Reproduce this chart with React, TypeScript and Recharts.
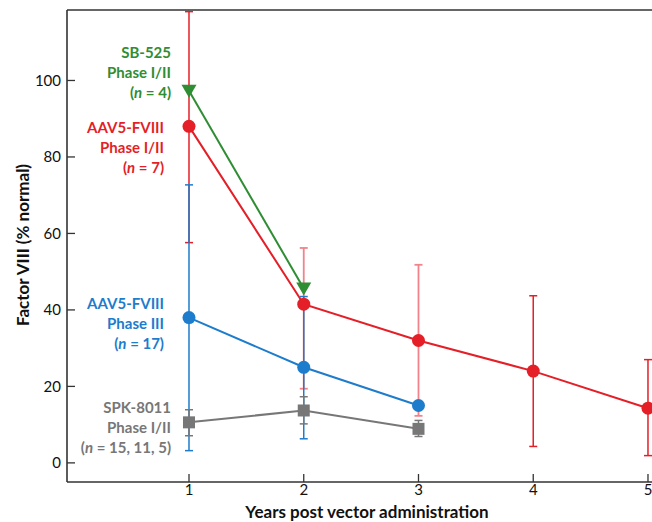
import React from "react";
import { LineChart, Line, XAxis, YAxis, ErrorBar, Customized } from "recharts";

// ---- data ----
const xTicks = [1, 2, 3, 4, 5];
const yTicks = [0, 20, 40, 60, 80, 100];

// AAV5-FVIII Phase I/II (red)
const redYears = [1, 2, 3, 4, 5];
const redMean = [88, 41.5, 32, 24, 14.3];
const redLow = [57.6, 19.4, 12.3, 4.3, 1.9];
const redHigh = [118, 56.2, 51.8, 43.7, 27];

// SB-525 Phase I/II (green)
const greenYears = [1, 2];
const greenMean = [97.3, 45.6];

// AAV5-FVIII Phase III (blue)
const blueYears = [1, 2, 3];
const blueMean = [38, 25, 15];
const blueErrYears = [1, 2];
const blueLow = [3.2, 6.3];
const blueHigh = [72.7, 43.5];

// SPK-8011 Phase I/II (gray)
const grayYears = [1, 2, 3];
const grayMean = [10.6, 13.7, 8.9];
const grayLow = [7.1, 10.2, 6.9];
const grayHigh = [13.9, 17.3, 11.1];

// ---- colours ----
const RED = "#e41f27";
const PINK = "#f2838b";
const GREEN = "#2f8d33";
const BLUE = "#1d7ccc";
const GRAY = "#777777";
const AXIS = "#333333";
const FONT = "Lato, 'Open Sans', sans-serif";

const pts = (xs: number[], m: number[]) => xs.map((x, i) => ({ x, y: m[i] }));
const errPts = (xs: number[], m: number[], lo: number[], hi: number[], pick?: number[]) =>
  xs
    .map((x, i) => ({ x, y: m[i], err: [m[i] - lo[i], hi[i] - m[i]] }))
    .filter((d) => (pick ? pick.includes(d.x) : true));

const redData = pts(redYears, redMean);
const redErrStrong = errPts(redYears, redMean, redLow, redHigh, [1, 4, 5]);
const redErrLight = errPts(redYears, redMean, redLow, redHigh, [2, 3]);
const greenData = pts(greenYears, greenMean);
const blueData = pts(blueYears, blueMean);
const blueErr = errPts(blueErrYears, blueMean.slice(0, 2), blueLow, blueHigh);
const grayData = pts(grayYears, grayMean);
const grayErr = errPts(grayYears, grayMean, grayLow, grayHigh);

const circleDot = (color: string) => (p: any) =>
  <circle key={`c${p.index}`} cx={p.cx} cy={p.cy} r={6.5} fill={color} />;
const squareDot = (color: string) => (p: any) =>
  <rect key={`s${p.index}`} x={p.cx - 6} y={p.cy - 6} width={12} height={12} fill={color} />;
const triDot = (color: string) => (p: any) => (
  <polygon
    key={`t${p.index}`}
    points={`${p.cx - 7.5},${p.cy - 6} ${p.cx + 7.5},${p.cy - 6} ${p.cx},${p.cy + 7}`}
    fill={color}
  />
);

const Italic = ({ children }: any) => <tspan fontStyle="italic">{children}</tspan>;

const Label = ({ x, y, color, lines }: any) => (
  <g>
    {lines.map((l: any, i: number) => (
      <text
        key={i}
        x={x}
        y={y + i * 20}
        textAnchor="end"
        dominantBaseline="central"
        fill={color}
        fontFamily={FONT}
        fontWeight={700}
        fontSize={15}
      >
        {l}
      </text>
    ))}
  </g>
);

const Annotations = () => (
  <g>
    <Label x={171} y={52} color={GREEN} lines={["SB-525", "Phase I/II", <>(<Italic>n</Italic> = 4)</>]} />
    <Label x={164} y={127} color={RED} lines={["AAV5-FVIII", "Phase I/II", <>(<Italic>n</Italic> = 7)</>]} />
    <Label x={164} y={303} color={BLUE} lines={["AAV5-FVIII", "Phase III", <>(<Italic>n</Italic> = 17)</>]} />
    <Label x={171} y={407} color={GRAY} lines={["SPK-8011", "Phase I/II", <>(<Italic>n</Italic> = 15, 11, 5)</>]} />
    <text
      x={22}
      y={245}
      transform="rotate(-90 22 245)"
      textAnchor="middle"
      dominantBaseline="central"
      fontFamily={FONT}
      fontWeight={700}
      fontSize={17}
      fill="#111"
    >
      Factor VIII (% normal)
    </text>
    <text
      x={367}
      y={511}
      textAnchor="middle"
      dominantBaseline="central"
      fontFamily={FONT}
      fontWeight={700}
      fontSize={17}
      fill="#111"
    >
      Years post vector administration
    </text>
  </g>
);

const X_DOMAIN: [number, number] = [-0.0632, 5.035];
const Y_DOMAIN: [number, number] = [-5, 118.43];

export default function App() {
  const tickStyle = { fontFamily: FONT, fontSize: 15, fill: "#111" };
  return (
    <div style={{ position: "absolute", left: 0, top: 0, width: 652, height: 522, overflow: "hidden", background: "#fff" }}>
      <LineChart width={652} height={522} margin={{ top: 9, right: 0, bottom: 0, left: 0 }}>
        <XAxis
          xAxisId="b"
          type="number"
          dataKey="x"
          domain={X_DOMAIN}
          ticks={xTicks}
          allowDataOverflow
          height={40}
          tickSize={-8}
          tickMargin={10}
          axisLine={{ stroke: AXIS, strokeWidth: 1.6 }}
          tickLine={{ stroke: AXIS, strokeWidth: 1.3 }}
          tick={tickStyle}
        />
        <XAxis
          xAxisId="t"
          orientation="top"
          type="number"
          dataKey="x"
          domain={X_DOMAIN}
          ticks={xTicks}
          allowDataOverflow
          height={1}
          tickSize={-8}
          tick={false}
          axisLine={{ stroke: AXIS, strokeWidth: 1.6 }}
          tickLine={{ stroke: "#555", strokeWidth: 1.3 }}
        />
        <YAxis
          type="number"
          domain={Y_DOMAIN}
          ticks={yTicks}
          allowDataOverflow
          width={67}
          tickSize={-8}
          tickMargin={14}
          axisLine={{ stroke: AXIS, strokeWidth: 1.6 }}
          tickLine={{ stroke: AXIS, strokeWidth: 1.3 }}
          tick={tickStyle}
        />

        {/* error bars */}
        <Line xAxisId="b" data={redErrStrong} dataKey="y" stroke="none" dot={false} activeDot={false} isAnimationActive={false}>
          <ErrorBar dataKey="err" direction="y" width={4} stroke={RED} strokeWidth={1.5} />
        </Line>
        <Line xAxisId="b" data={redErrLight} dataKey="y" stroke="none" dot={false} activeDot={false} isAnimationActive={false}>
          <ErrorBar dataKey="err" direction="y" width={4} stroke={PINK} strokeWidth={1.8} />
        </Line>
        <Line xAxisId="b" data={blueErr} dataKey="y" stroke="none" dot={false} activeDot={false} isAnimationActive={false}>
          <ErrorBar dataKey="err" direction="y" width={4} stroke={BLUE} strokeWidth={1.5} />
        </Line>
        <Line xAxisId="b" data={grayErr} dataKey="y" stroke="none" dot={false} activeDot={false} isAnimationActive={false}>
          <ErrorBar dataKey="err" direction="y" width={4} stroke={GRAY} strokeWidth={1.5} />
        </Line>

        {/* series */}
        <Line xAxisId="b" data={redData} dataKey="y" stroke={RED} strokeWidth={2} dot={circleDot(RED)} activeDot={false} isAnimationActive={false} />
        <Line xAxisId="b" data={greenData} dataKey="y" stroke={GREEN} strokeWidth={2} dot={triDot(GREEN)} activeDot={false} isAnimationActive={false} />
        <Line xAxisId="b" data={blueData} dataKey="y" stroke={BLUE} strokeWidth={2} dot={circleDot(BLUE)} activeDot={false} isAnimationActive={false} />
        <Line xAxisId="b" data={grayData} dataKey="y" stroke={GRAY} strokeWidth={2} dot={squareDot(GRAY)} activeDot={false} isAnimationActive={false} />

        <Customized component={Annotations} />
      </LineChart>
    </div>
  );
}
